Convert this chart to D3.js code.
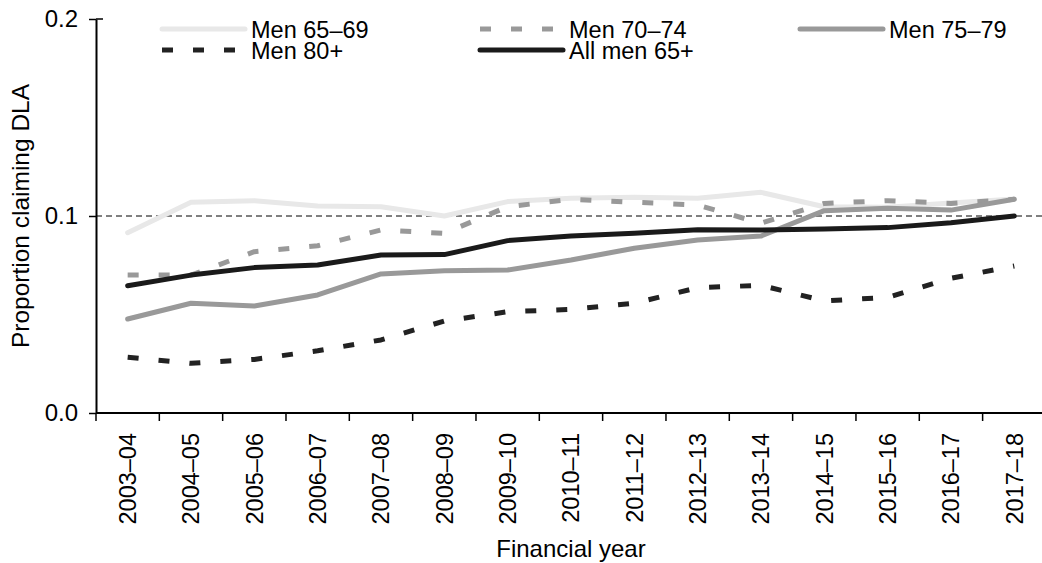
<!DOCTYPE html>
<html>
<head>
<meta charset="utf-8">
<script src="https://cdn.jsdelivr.net/npm/d3@7"></script>
<style>
  body { margin: 0; background: #fff; }
  text { font-family: "Liberation Sans", Arial, sans-serif; fill: #000; }
</style>
</head>
<body>
<script>
(function() {

	var width = 1042;
	var height = 563;

	// data
	var years = ['2003–04', '2004–05', '2005–06', '2006–07', '2007–08', '2008–09', '2009–10',
		'2010–11', '2011–12', '2012–13', '2013–14', '2014–15', '2015–16', '2016–17', '2017–18'];

	var men6569 = [0.0915, 0.107, 0.1078, 0.1051, 0.1047, 0.1000, 0.1073, 0.109, 0.1095, 0.109, 0.112, 0.1047, 0.1045, 0.1066, 0.1086];
	var men7074 = [0.070, 0.070, 0.0819, 0.0849, 0.0929, 0.0912, 0.1047, 0.1085, 0.107, 0.1056, 0.0963, 0.1064, 0.1078, 0.1064, 0.1085];
	var men7579 = [0.0477, 0.0557, 0.0543, 0.0599, 0.0706, 0.0722, 0.0726, 0.0777, 0.0836, 0.0878, 0.0898, 0.1027, 0.1039, 0.103, 0.1085];
	var men80 = [0.0283, 0.0252, 0.0272, 0.0316, 0.0371, 0.0467, 0.0514, 0.0526, 0.0557, 0.0636, 0.0648, 0.0569, 0.0587, 0.0684, 0.0746];
	var allMen = [0.0646, 0.070, 0.0738, 0.0751, 0.0802, 0.0804, 0.0875, 0.0898, 0.0912, 0.093, 0.0929, 0.0934, 0.0941, 0.0966, 0.100];

	var yTicks = [0, 0.1, 0.2];
	var refValue = 0.1;

	var series = [
		{ name: 'Men 65–69', values: men6569, color: '#e8e8e8', dash: null },
		{ name: 'Men 70–74', values: men7074, color: '#999999', dash: '11,20' },
		{ name: 'Men 75–79', values: men7579, color: '#999999', dash: null },
		{ name: 'Men 80+', values: men80, color: '#222222', dash: '11,20' },
		{ name: 'All men 65+', values: allMen, color: '#1a1a1a', dash: null }
	];

	var left = 96, top = 19, bottom = 413;
	var band = 63.33;

	var svg = d3.select('body')
		.append('svg')
			.attr('width', width)
			.attr('height', height);

	var x = d3.scaleBand()
		.domain(years)
		.range([left, left + band * years.length]);

	var y = d3.scaleLinear()
		.domain([0, 0.2])
		.range([bottom, top]);

	// reference line at 0.1
	svg.append('line')
		.attr('x1', left)
		.attr('x2', width)
		.attr('y1', y(refValue))
		.attr('y2', y(refValue))
		.style('stroke', '#000')
		.style('stroke-width', 1)
		.style('stroke-dasharray', '6,4');

	// lines
	var line = d3.line()
		.x(function(d, i) { return x(years[i]) + x.bandwidth() / 2; })
		.y(function(d) { return y(d); });

	series.forEach(function(s) {
		svg.append('path')
			.datum(s.values)
			.attr('d', line)
			.style('fill', 'none')
			.style('stroke', s.color)
			.style('stroke-width', 5)
			.style('stroke-linecap', s.dash ? 'butt' : 'round')
			.style('stroke-linejoin', 'round')
			.style('stroke-dasharray', s.dash);
	});

	// y axis
	var yAxis = svg.append('g')
		.attr('transform', 'translate(' + left + ',0)')
		.call(d3.axisLeft(y)
			.tickValues(yTicks)
			.tickFormat(d3.format('.1f'))
			.tickSizeInner(7)
			.tickSizeOuter(0)
			.tickPadding(11));
	yAxis.select('.domain').style('stroke-width', 2);
	yAxis.selectAll('.tick line').style('stroke-width', 1.5);
	yAxis.selectAll('text')
		.style('font-size', '24px')
		.style('font-family', '"Liberation Sans", Arial, sans-serif')
		.style('fill', '#000');
	svg.append('line')
		.attr('x1', left)
		.attr('x2', left + 7)
		.attr('y1', y(0.2))
		.attr('y2', y(0.2))
		.style('stroke', '#000')
		.style('stroke-width', 1.5);

	// x axis: ticks on band edges, labels at band centres
	var xg = svg.append('g');
	xg.append('line')
		.attr('x1', left)
		.attr('x2', width)
		.attr('y1', bottom)
		.attr('y2', bottom)
		.style('stroke', '#000')
		.style('stroke-width', 2);

	xg.selectAll('.edge')
		.data(years)
		.enter()
		.append('line')
			.attr('x1', function(d) { return x(d); })
			.attr('x2', function(d) { return x(d); })
			.attr('y1', bottom)
			.attr('y2', bottom + 8)
			.style('stroke', '#000')
			.style('stroke-width', 1.5);

	xg.selectAll('.lab')
		.data(years)
		.enter()
		.append('text')
			.attr('transform', function(d) {
				return 'translate(' + (x(d) + x.bandwidth() / 2) + ',' + (bottom + 20) + ') rotate(-90)';
			})
			.attr('dy', '0.35em')
			.attr('text-anchor', 'end')
			.style('font-size', '23.5px')
			.text(function(d) { return d; });

	// axis titles
	svg.append('text')
		.attr('x', (x.range()[0] + x.range()[1]) / 2)
		.attr('y', 557)
		.attr('text-anchor', 'middle')
		.style('font-size', '24px')
		.text('Financial year');

	svg.append('text')
		.attr('transform', 'translate(29,' + ((top + bottom) / 2) + ') rotate(-90)')
		.attr('text-anchor', 'middle')
		.style('font-size', '24.5px')
		.text('Proportion claiming DLA');

	// legend
	var legendPos = [
		{ x: 162, y: 29 },
		{ x: 480, y: 29 },
		{ x: 800, y: 29 },
		{ x: 162, y: 50 },
		{ x: 480, y: 50 }
	];

	series.forEach(function(s, i) {
		var p = legendPos[i];
		svg.append('line')
			.attr('x1', p.x)
			.attr('x2', p.x + 83)
			.attr('y1', p.y)
			.attr('y2', p.y)
			.style('stroke', s.color)
			.style('stroke-width', 5)
			.style('stroke-linecap', s.dash ? 'butt' : 'round')
			.style('stroke-dasharray', s.dash);
		svg.append('text')
			.attr('x', p.x + 89)
			.attr('y', p.y + 9)
			.style('font-size', '23.5px')
			.text(s.name);
	});

})();
</script>
</body>
</html>
